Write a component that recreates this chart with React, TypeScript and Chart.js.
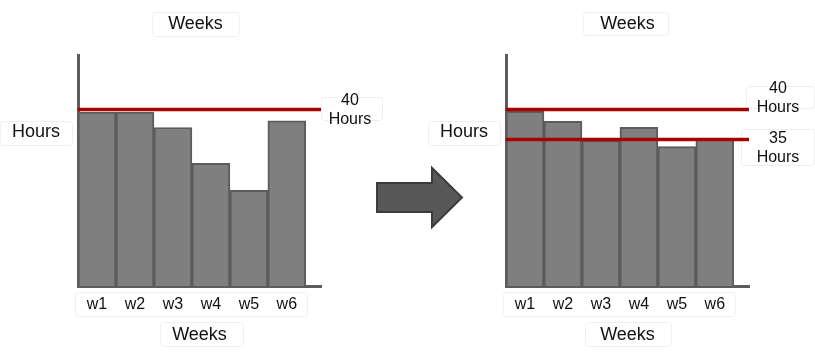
import React, { useEffect, useRef } from 'react';
import { Chart, registerables } from 'chart.js';

Chart.register(...registerables);

// ---------- data ----------
const weeks = ['w1', 'w2', 'w3', 'w4', 'w5', 'w6'];
const hoursBefore = [39.4, 39.4, 35.9, 27.8, 21.7, 37.4];
const hoursAfter = [39.7, 38.0, 34.8, 37.0, 33.8, 35.0];
const targetsBefore = [40];
const targetsAfter = [40, 35];
const axisTitleX = 'Weeks';
const axisTitleY = 'Hours';
const unitLabel = 'Hours';

const FONT = "'Liberation Sans', Arial, Helvetica, sans-serif";
const BAR_FILL = '#7f7f7f';
const BAR_EDGE = '#5c5c5c';
const RED = '#a60000';
const TEXT = '#111111';

type Box = [number, number, number, number];

const annotPlugin = {
  id: 'annot',
  beforeDraw(chart: any, _a: any, o: any) {
    const ctx = chart.ctx as CanvasRenderingContext2D;
    ctx.save();
    ctx.strokeStyle = '#efefef';
    ctx.lineWidth = 1;
    for (const b of o.boxes as Box[]) {
      const [x1, y1, x2, y2] = b;
      ctx.beginPath();
      (ctx as any).roundRect(x1 + 0.5, y1 + 0.5, x2 - x1, y2 - y1, 3);
      ctx.stroke();
    }
    ctx.restore();
  },
  afterDraw(chart: any, _a: any, o: any) {
    const ctx = chart.ctx as CanvasRenderingContext2D;
    ctx.save();
    ctx.fillStyle = TEXT;
    ctx.textAlign = 'center';
    ctx.textBaseline = 'middle';
    ctx.font = `18px ${FONT}`;
    ctx.fillText(axisTitleY, o.yTitleX, o.yTitleY);
    ctx.font = `16px ${FONT}`;
    const ys = chart.scales.y;
    (o.refs as { value: number; dy: number }[]).forEach((r) => {
      const py = ys.getPixelForValue(r.value) + r.dy;
      const lines = [String(r.value), unitLabel];
      lines.forEach((t, i) => {
        ctx.fillText(t, o.refX, py + (i - (lines.length - 1) / 2) * 19);
      });
    });
    ctx.restore();
  },
};

function makeConfig(p: {
  values: number[];
  targets: number[];
  yMin: number;
  yMax: number;
  padLeft: number;
  padRight: number;
  titleFull: boolean;
  annot: any;
}): any {
  const xMax = 6.4;
  const lineSets = p.targets.map((t) => ({
    type: 'line',
    data: [
      { x: 0, y: t },
      { x: xMax, y: t },
    ],
    borderColor: RED,
    borderWidth: 3.5,
    pointRadius: 0,
    order: 0,
  }));
  return {
    type: 'bar',
    data: {
      datasets: [
        ...lineSets,
        {
          type: 'bar',
          data: p.values.map((v, i) => ({ x: i + 0.5, y: v })),
          backgroundColor: BAR_FILL,
          borderColor: BAR_EDGE,
          borderWidth: 2,
          barPercentage: 1,
          categoryPercentage: 1,
          order: 1,
        },
      ],
    },
    options: {
      responsive: false,
      animation: false,
      events: [],
      layout: { padding: { left: p.padLeft, right: p.padRight, top: 0, bottom: 0 } },
      plugins: {
        legend: { display: false },
        tooltip: { enabled: false },
        title: {
          display: true,
          text: axisTitleX,
          fullSize: p.titleFull,
          color: TEXT,
          font: { family: FONT, size: 18, weight: 'normal' },
          padding: { top: 13, bottom: 21 },
        },
        annot: p.annot,
      },
      scales: {
        x: {
          type: 'linear',
          min: 0,
          max: xMax,
          offset: false,
          grid: { display: false, drawTicks: false },
          border: { display: true, color: BAR_EDGE, width: 3 },
          afterBuildTicks: (axis: any) => {
            axis.ticks = weeks.map((_, i) => ({ value: i + 0.5 }));
          },
          afterFit: (s: any) => {
            s.height = 70;
          },
          ticks: {
            autoSkip: false,
            maxRotation: 0,
            padding: 9,
            color: TEXT,
            font: { family: FONT, size: 16 },
            callback: (_v: any, i: number) => weeks[i],
          },
          title: {
            display: true,
            text: axisTitleX,
            color: TEXT,
            font: { family: FONT, size: 18 },
            padding: { top: 4, bottom: 10 },
          },
        },
        y: {
          type: 'linear',
          position: 'left',
          min: p.yMin,
          max: p.yMax,
          grid: { display: false, drawTicks: false },
          border: { display: true, color: BAR_EDGE, width: 3 },
          ticks: { display: false },
          afterFit: (s: any) => {
            s.width = 8;
          },
        },
      },
    },
    plugins: [annotPlugin],
  };
}

function ChartCanvas({ config, left, width }: { config: any; left: number; width: number }) {
  const ref = useRef<HTMLCanvasElement | null>(null);
  useEffect(() => {
    if (!ref.current) return;
    const chart = new Chart(ref.current, config);
    return () => chart.destroy();
  }, []);
  return (
    <canvas
      ref={ref}
      width={width}
      height={356}
      style={{ position: 'absolute', left, top: 0, width, height: 356 }}
    />
  );
}

export default function App() {
  const leftConfig = makeConfig({
    values: hoursBefore,
    targets: targetsBefore,
    yMin: 0,
    yMax: 52.2,
    padLeft: 70,
    padRight: 69,
    titleFull: true,
    annot: {
      yTitleX: 36,
      yTitleY: 132,
      refX: 350,
      refs: targetsBefore.map((v) => ({ value: v, dy: 0.5 })),
      boxes: [
        [152, 12, 239, 36],
        [0, 121, 72, 145],
        [75, 292, 307, 316],
        [160, 322, 243, 346],
        [321, 97, 382, 120],
      ],
    },
  });
  const rightConfig = makeConfig({
    values: hoursAfter,
    targets: targetsAfter,
    yMin: 10.5,
    yMax: 49,
    padLeft: 73,
    padRight: 66,
    titleFull: false,
    annot: {
      yTitleX: 39,
      yTitleY: 132,
      refX: 353,
      refs: targetsAfter.map((v, i) => ({ value: v, dy: i === 0 ? -11.5 : 8.5 })),
      boxes: [
        [158, 12, 243, 35],
        [3, 121, 75, 145],
        [78, 292, 310, 316],
        [160, 322, 246, 346],
        [321, 86, 389, 108],
        [316, 129, 389, 165],
      ],
    },
  });
  return (
    <div
      style={{
        position: 'fixed',
        left: 0,
        top: 0,
        width: 815,
        height: 356,
        background: '#ffffff',
        overflow: 'hidden',
      }}
    >
      <ChartCanvas config={leftConfig} left={0} width={390} />
      <ChartCanvas config={rightConfig} left={425} width={390} />
      <svg
        width={815}
        height={356}
        style={{ position: 'absolute', left: 0, top: 0, pointerEvents: 'none' }}
      >
        <polygon
          points="377,183 432,183 432,168 462,197.5 432,227 432,212 377,212"
          fill="#585858"
          stroke="#3c3c3c"
          strokeWidth={2}
          strokeLinejoin="miter"
        />
      </svg>
    </div>
  );
}
